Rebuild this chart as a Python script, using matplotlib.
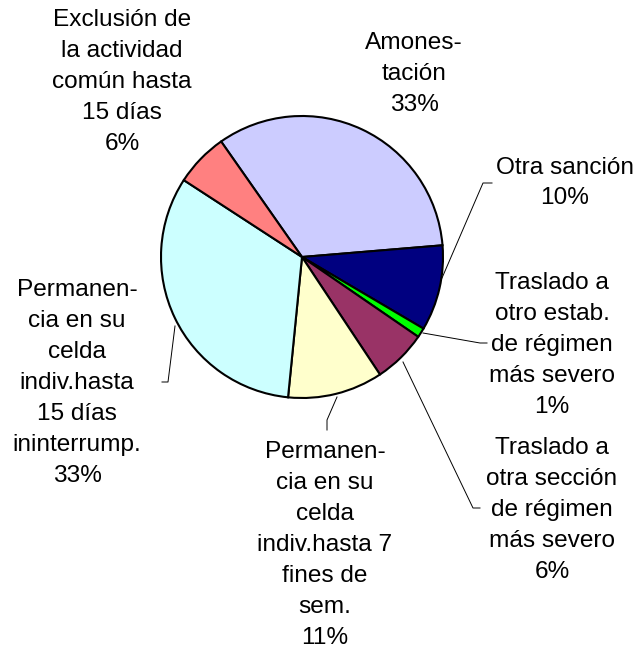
import matplotlib
matplotlib.use("Agg")
import matplotlib.pyplot as plt

plt.rcParams['font.family'] = ['Liberation Sans', 'DejaVu Sans']

categories = [
    "Amones-\ntación",
    "Otra sanción",
    "Traslado a\notro estab.\nde régimen\nmás severo",
    "Traslado a\notra sección\nde régimen\nmás severo",
    "Permanen-\ncia en su\ncelda\nindiv.hasta 7\nfines de\nsem.",
    "Permanen-\ncia en su\ncelda\nindiv.hasta\n15 días\nininterrump.",
    "Exclusión de\nla actividad\ncomún hasta\n15 días",
]
values = [33.4, 9.8, 1.1, 6.1, 10.9, 32.6, 6.1]
colors = ["#CCCCFF", "#000080", "#00FF00", "#993366", "#FFFFCC", "#CCFFFF", "#FF8080"]

W, H = 644, 651
fig = plt.figure(figsize=(W / 100, H / 100), dpi=100)
ax = fig.add_axes([0, 0, 1, 1])
ax.set_xlim(0, W)
ax.set_ylim(0, H)
ax.set_aspect('equal')
ax.axis('off')

def Y(y):
    return H - y

cx, cy, r = 302, 257, 141
ax.pie(values, colors=colors, startangle=125, counterclock=False,
       center=(cx, Y(cy)), radius=r, frame=True,
       wedgeprops=dict(edgecolor='black', linewidth=1.5))
ax.set_xlim(0, W)
ax.set_ylim(0, H)
ax.axis('off')

# label positions (pixel coords: x, y center)
label_pos = [(414, 74), (565, 183), (552, 345), (552, 510), (325, 545), (77, 383), (122, 82)]
total = sum(values)
for name, v, (lx, ly) in zip(categories, values, label_pos):
    ax.text(lx, Y(ly), f"{name}\n{v / total * 100:.0f}%", ha='center', va='center',
            fontsize=17.6, linespacing=1.52, color='black')

leaders = [
    [(442, 278), (483, 183), (492, 183)],
    [(423, 333), (480, 343), (487, 343)],
    [(403, 362), (473, 508), (480, 508)],
    [(337, 397), (327, 420), (327, 430)],
    [(175, 326), (168, 382), (162, 382)],
]
for pts in leaders:
    ax.plot([p[0] for p in pts], [Y(p[1]) for p in pts], color='black', lw=0.7)

fig.savefig("out.png", dpi=100)
